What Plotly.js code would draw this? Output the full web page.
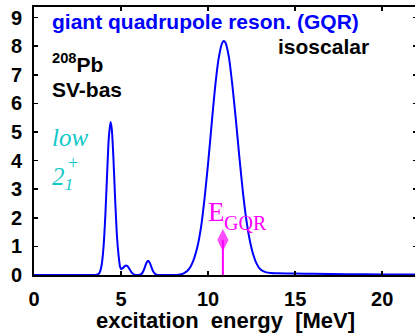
<!DOCTYPE html>
<html>
<head>
<meta charset="utf-8">
<script src="https://cdn.plot.ly/plotly-3.0.1.min.js"></script>
<style>
html,body{margin:0;padding:0;overflow:hidden;background:#fff;}
#chart{width:418px;height:333px;}
</style>
</head>
<body>
<div id="chart"></div>
<script>
// excitation energy [MeV]
const energy = [0, 3.4, 3.6, 3.7, 3.8, 3.9, 4.0, 4.1, 4.2, 4.3, 4.4, 4.47, 4.56, 4.66, 4.76, 4.86, 4.94, 5.0, 5.1, 5.2, 5.3, 5.4, 5.5, 5.6, 5.7, 5.85, 6.0, 6.15, 6.25, 6.35, 6.45, 6.55, 6.65, 6.75, 6.85, 6.95, 7.1, 7.4, 8.2, 8.4, 8.6, 8.8, 9.0, 9.2, 9.4, 9.6, 9.8, 10.0, 10.2, 10.4, 10.6, 10.8, 10.9, 11.0, 11.2, 11.4, 11.6, 11.8, 12.0, 12.2, 12.4, 12.6, 12.8, 13.0, 13.3, 13.6, 14.0, 15.0, 16.0, 18.0, 20.0, 22.0];
// isoscalar quadrupole strength
const strength = [0, 0, 0.01, 0.03, 0.13, 0.41, 1.03, 2.11, 3.54, 4.83, 5.35, 5.09, 4.11, 2.66, 1.4, 0.68, 0.3, 0.21, 0.24, 0.3, 0.33, 0.29, 0.19, 0.09, 0.035, 0.005, 0, 0.03, 0.1, 0.24, 0.41, 0.5, 0.43, 0.27, 0.12, 0.04, 0.005, 0, 0, 0.02, 0.06, 0.14, 0.3, 0.58, 1.02, 1.7, 2.7, 3.9, 5.25, 6.55, 7.55, 8.1, 8.18, 8.12, 7.6, 6.6, 5.4, 4.1, 2.9, 1.92, 1.2, 0.7, 0.38, 0.2, 0.1, 0.07, 0.06, 0.05, 0.04, 0.03, 0.02, 0.015];
// GQR centroid energy marker
const eGQR = [10.85, 10.85];
const eGQRArrow = [0, 1.22];
const xTicks = [0, 5, 10, 15, 20];
const yTicks = [0, 1, 2, 3, 4, 5, 6, 7, 8, 9];

const L = 34, T = 7, W = 383, H = 268;
const px = v => (v - L) / W;
const py = v => (T + H - v) / H;
const sans = 'Liberation Sans, Arial, sans-serif';
const serif = 'Liberation Serif, Times New Roman, serif';

const traces = [
  {x: energy, y: strength, type: 'scatter', mode: 'lines',
   line: {color: '#0000ff', width: 2, shape: 'spline', smoothing: 0.6}, hoverinfo: 'skip'},
  {x: eGQR, y: eGQRArrow, type: 'scatter', mode: 'lines+markers',
   line: {color: '#ff00ff', width: 2},
   marker: {symbol: 'diamond-tall', size: [0, 16], color: '#ff00ff', line: {width: 0}}, hoverinfo: 'skip'}
];

function ann(text, x, y, font, extra) {
  return Object.assign({text: text, xref: 'paper', yref: 'paper', x: px(x), y: py(y),
    xanchor: 'left', yanchor: 'middle', showarrow: false, borderpad: 0, font: font}, extra || {});
}

const annotations = [
  ann('<b>giant quadrupole reson. (GQR)</b>', 51, 21, {family: sans, size: 21, color: '#0000ff'}),
  ann('<b>isoscalar</b>', 277, 46, {family: sans, size: 21, color: '#000'}),
  ann('<b><sup>208</sup>Pb</b>', 51, 62.6, {family: sans, size: 21, color: '#000'}),
  ann('<b>SV-bas</b>', 51, 89.6, {family: sans, size: 21, color: '#000'}),
  ann('<i>low</i>', 51, 137.6, {family: serif, size: 25, color: '#10c8c8'}),
  ann('<i>2<sub>1</sub></i>', 51, 178, {family: serif, size: 25, color: '#10c8c8'}),
  ann('+', 67, 163, {family: serif, size: 18, color: '#10c8c8'}),
  ann('E', 207, 211.6, {family: serif, size: 27, color: '#ff00ff'}),
  ann('GQR', 223, 223.3, {family: serif, size: 20, color: '#ff00ff'})
];

const axisCommon = {showline: true, linecolor: '#000', linewidth: 2, mirror: 'ticks',
  ticks: 'inside', ticklen: 4, tickwidth: 1.5, tickcolor: '#000', zeroline: false, showgrid: false,
  tickfont: {family: sans, size: 20, color: '#000'}};

const layout = {
  width: 418, height: 333,
  margin: {l: L, r: 418 - L - W, t: T, b: 333 - T - H},
  paper_bgcolor: '#fff', plot_bgcolor: '#fff', showlegend: false,
  xaxis: Object.assign({}, axisCommon, {range: [0, 22], tickvals: xTicks,
    ticktext: xTicks.map(v => '<b>' + v + '</b>'),
    ticklabelstandoff: 5,
    title: {text: '<b>excitation\u00a0\u00a0energy\u00a0\u00a0[MeV]</b>', standoff: 3,
      font: {family: sans, size: 22, color: '#000'}}}),
  yaxis: Object.assign({}, axisCommon, {range: [0, 9.37], tickvals: yTicks,
    ticktext: yTicks.map(v => '<b>' + v + '</b>'),
    ticklabelstandoff: 6}),
  annotations: annotations
};

Plotly.newPlot('chart', traces, layout, {staticPlot: true, displayModeBar: false});
</script>
</body>
</html>
